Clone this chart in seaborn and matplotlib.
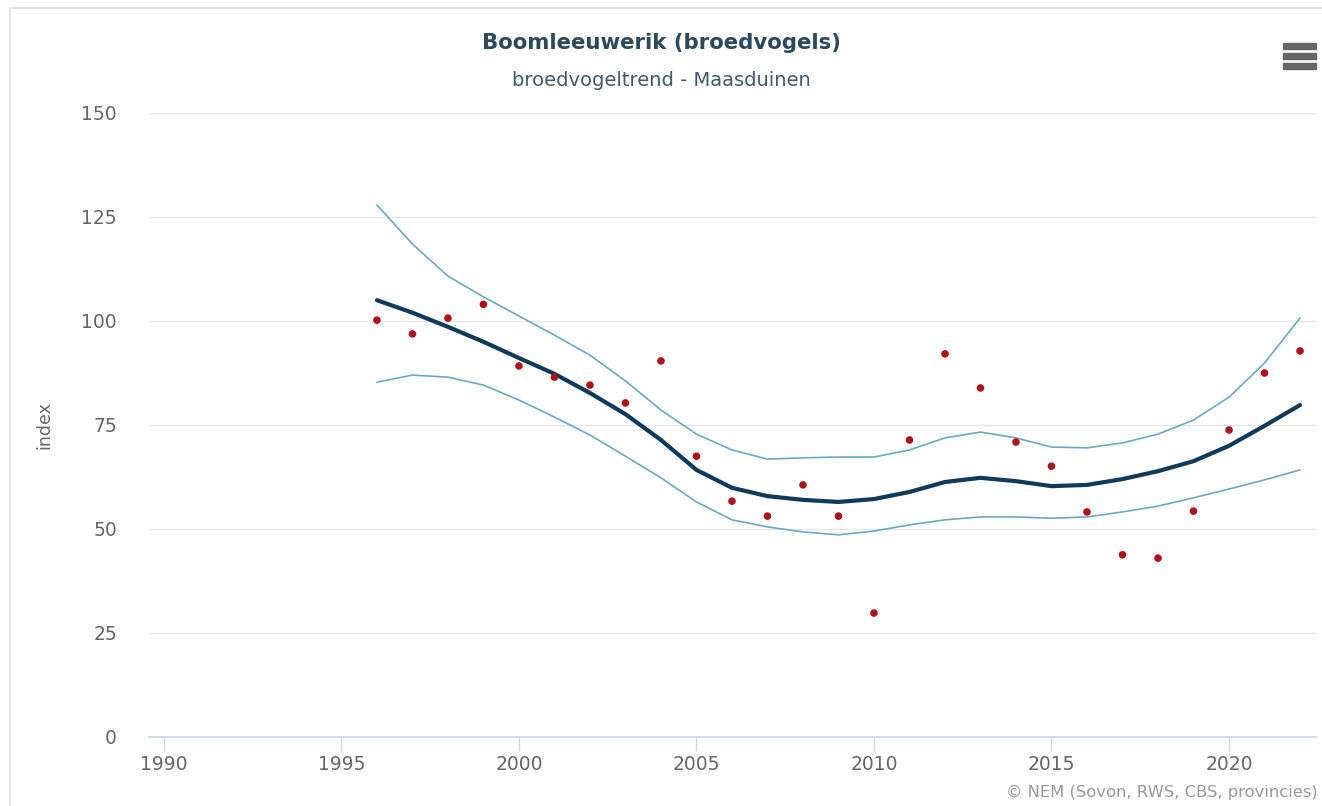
import numpy as np
import pandas as pd
import matplotlib.pyplot as plt
import seaborn as sns
from matplotlib.patches import Rectangle

years = list(range(1996, 2023))
index_obs = [100.2, 96.9, 100.7, 104.0, 89.2, 86.5, 84.6, 80.3, 90.4, 67.5,
             56.7, 53.1, 60.6, 53.1, 29.8, 71.4, 92.1, 83.9, 70.9, 65.1,
             54.1, 43.8, 43.0, 54.3, 73.8, 87.5, 92.8]
trend = [105.0, 102.0, 98.6, 95.0, 91.1, 87.3, 82.7, 77.6, 71.4, 64.2,
         59.9, 57.9, 57.0, 56.5, 57.2, 58.9, 61.3, 62.3, 61.5, 60.3,
         60.6, 62.0, 63.9, 66.3, 70.0, 74.8, 79.8]
upper = [127.9, 118.5, 110.8, 105.8, 101.2, 96.6, 91.8, 85.6, 78.6, 72.8,
         69.0, 66.8, 67.1, 67.3, 67.3, 69.0, 71.9, 73.3, 71.9, 69.7,
         69.5, 70.7, 72.8, 76.2, 81.7, 89.9, 100.7]
lower = [85.3, 87.0, 86.5, 84.6, 81.0, 76.9, 72.6, 67.5, 62.3, 56.5,
         52.2, 50.5, 49.3, 48.6, 49.5, 51.0, 52.2, 52.9, 52.9, 52.6,
         52.9, 54.1, 55.5, 57.5, 59.6, 61.8, 64.2]
xticks = [1990, 1995, 2000, 2005, 2010, 2015, 2020]
yticks = [0, 25, 50, 75, 100, 125, 150]

df = pd.DataFrame({"jaar": years, "index": index_obs, "trend": trend,
                   "boven": upper, "onder": lower})

sns.set_style("white")
plt.rcParams["font.family"] = ["DejaVu Sans"]

fig = plt.figure(figsize=(13.22, 8.06), dpi=100)
ax = fig.add_axes([149/1322, 69/806, (1316-149)/1322, (737-113)/806])

sns.lineplot(data=df, x="jaar", y="boven", color="#6aa9c4", linewidth=1.2, ax=ax)
sns.lineplot(data=df, x="jaar", y="onder", color="#6aa9c4", linewidth=1.2, ax=ax)
sns.lineplot(data=df, x="jaar", y="trend", color="#0f3a5c", linewidth=3, ax=ax)
sns.scatterplot(data=df, x="jaar", y="index", color="#b0121b", s=30,
                edgecolor="none", ax=ax, zorder=5)

ax.set_xlim(1989.58, 2022.45)
ax.set_ylim(0, 150)
ax.set_xticks(xticks)
ax.set_yticks(yticks)
ax.yaxis.grid(True, color="#e6e6e6", linewidth=1)
ax.xaxis.grid(False)
for s in ["top", "right", "left"]:
    ax.spines[s].set_visible(False)
ax.spines["bottom"].set_color("#ccd6eb")
ax.spines["bottom"].set_linewidth(1.2)
ax.tick_params(axis="x", length=10, width=1, color="#ccd6eb", labelsize=13.5,
               labelcolor="#666666", pad=3, bottom=True)
ax.tick_params(axis="y", length=0, labelsize=13.5, labelcolor="#666666", pad=23)
ax.set_xlabel("")
ax.set_ylabel("index", fontsize=12.5, color="#666666", labelpad=20)

fig.text(0.5, 1 - 43/806, "Boomleeuwerik (broedvogels)", ha="center", va="center",
         fontsize=15.3, fontweight="bold", color="#2b4a5e")
fig.text(0.5, 1 - 80/806, "broedvogeltrend - Maasduinen", ha="center", va="center",
         fontsize=14, color="#3f5a6a")
fig.text(1318/1322, 1 - 792/806, "\u00a9 NEM (Sovon, RWS, CBS, provincies)",
         ha="right", va="center", fontsize=11.8, color="#999999")

# menu icon
for yy in [46, 56, 66]:
    fig.add_artist(Rectangle((1283/1322, 1 - (yy + 3)/806), 33/1322, 6/806,
                             transform=fig.transFigure, color="#666666"))
# outer frame
fig.add_artist(Rectangle((10/1322, -0.01), 1.2, 1 - 8/806 + 0.01,
                         transform=fig.transFigure, fill=False,
                         edgecolor="#dddddd", linewidth=1.2))

fig.savefig("out.png", dpi=100)
